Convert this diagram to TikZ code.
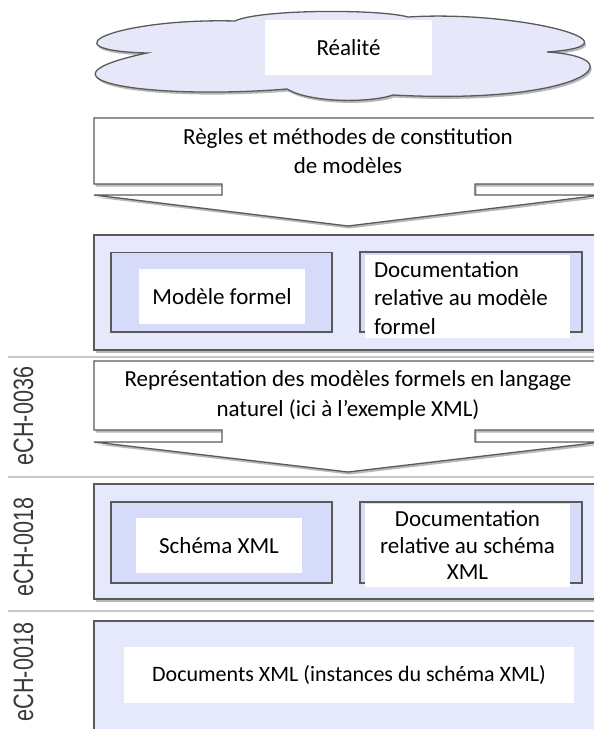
\documentclass[tikz,border=0pt]{standalone}
\usepackage{fontspec}
\setmainfont{Carlito}
\newfontfamily\labelfont{Liberation Sans}
\definecolor{cloudfill}{HTML}{E6E8FA}
\definecolor{panelfill}{HTML}{E6E9FB}
\definecolor{innerfill}{HTML}{D5DBF8}
\definecolor{edgec}{HTML}{5A5A5A}
\definecolor{sepc}{HTML}{C8C8C8}
\definecolor{labc}{HTML}{3A3A3A}
\tikzset{
  dropshadow/.style={preaction={fill=black!28, draw=none, transform canvas={shift={(1.5pt,-2.5pt)}}}},
  cloudshape/.style={draw=edgec, line width=1.3pt, fill=cloudfill, dropshadow},
  arrowblock/.style={draw=edgec, line width=1.3pt, fill=white, dropshadow},
  panel/.style={draw=edgec, line width=1.3pt, fill=panelfill, dropshadow},
  innerbox/.style={draw=edgec, line width=1.7pt, fill=innerfill},
  seprule/.style={draw=sepc, line width=1.5pt},
  whitelabel/.style={fill=white, inner sep=0pt, outer sep=0pt, font=\fontsize{23}{28.5}\selectfont, align=center},
  blocktext/.style={inner sep=0pt, font=\fontsize{23}{29.5}\selectfont, align=center},
  echlabel/.style={rotate=90, anchor=base, inner sep=0pt, text=labc}
}
\begin{document}
\begin{tikzpicture}[x=1pt,y=-1pt]
\useasboundingbox (0,0) rectangle (594,729);
\fill[white] (0,0) rectangle (594,729);
\clip (0,0) rectangle (594,729);

% separators
\draw[seprule] (8,357) -- (594,357);
\draw[seprule] (8,477) -- (594,477);
\draw[seprule] (8,611) -- (594,611);

% cloud
\draw[cloudshape] (147,53) .. controls (40,50) and (120,18) .. (235,21)
  .. controls (260,9) and (380,9) .. (408,17)
  .. controls (520,10) and (650,45) .. (547,52)
  .. controls (640,58) and (580,105) .. (393,95)
  .. controls (370,103) and (310,103) .. (287,89)
  .. controls (150,100) and (20,80) .. (147,53) -- cycle;
\node[whitelabel, minimum width=167pt, minimum height=55pt] (real) at (348.5,47.5) {Réalité};

% arrow block 1
\draw[arrowblock] (94,118) -- (602,118) -- (602,184) -- (475,184) -- (475,195) -- (602,195)
  -- (348,226) -- (94,195) -- (222,195) -- (222,184) -- (94,184) -- cycle;
\node[blocktext] (rules) at (348,151) {Règles et méthodes de constitution\\de modèles};

% panel 2
\draw[panel] (94,235) rectangle (602,350);
\draw[innerbox] (110.7,252.5) rectangle (332,331.7);
\draw[innerbox] (360,252) rectangle (582,332);
\node[whitelabel, minimum width=166pt, minimum height=55pt] (mf) at (222,296.5) {Modèle formel};
\node[whitelabel, minimum width=205pt, minimum height=83pt] (docmfbox) at (467.5,296.5) {};
\node[whitelabel, align=left, anchor=west, fill=none] (docmf) at (374,298) {Documentation\\relative au modèle\\formel};

% arrow block 2
\draw[arrowblock] (94,361) -- (602,361) -- (602,430) -- (475,430) -- (475,442) -- (602,442)
  -- (348,472) -- (94,442) -- (222,442) -- (222,430) -- (94,430) -- cycle;
\node[blocktext] (repr) at (348,395.5) {Représentation des modèles formels en langage\\naturel (ici à l’exemple XML)};

% panel 3
\draw[panel] (94,484) rectangle (602,599);
\draw[innerbox] (111,502) rectangle (332,583);
\draw[innerbox] (360,502) rectangle (582,583);
\node[whitelabel, minimum width=166pt, minimum height=55pt] (schema) at (219,545.5) {Schéma XML};
\node[whitelabel, font=\fontsize{23}{26.5}\selectfont, minimum width=205pt, minimum height=83pt] (docxs) at (467.5,545.5) {Documentation\\relative au schéma\\XML};

% panel 4
\draw[panel] (94,621) rectangle (602,800);
\node[whitelabel, font=\fontsize{22}{26}\selectfont, minimum width=450pt, minimum height=56pt] (docs) at (349,675) {Documents XML (instances du schéma XML)};

% side labels
\node[echlabel] (l1) at (33,416) {\scalebox{0.77}[1]{\labelfont\fontsize{28}{28}\selectfont eCH-0036}};
\node[echlabel] (l2) at (33,547) {\scalebox{0.77}[1]{\labelfont\fontsize{28}{28}\selectfont eCH-0018}};
\node[echlabel] (l3) at (33,672) {\scalebox{0.77}[1]{\labelfont\fontsize{28}{28}\selectfont eCH-0018}};
\end{tikzpicture}
\end{document}
